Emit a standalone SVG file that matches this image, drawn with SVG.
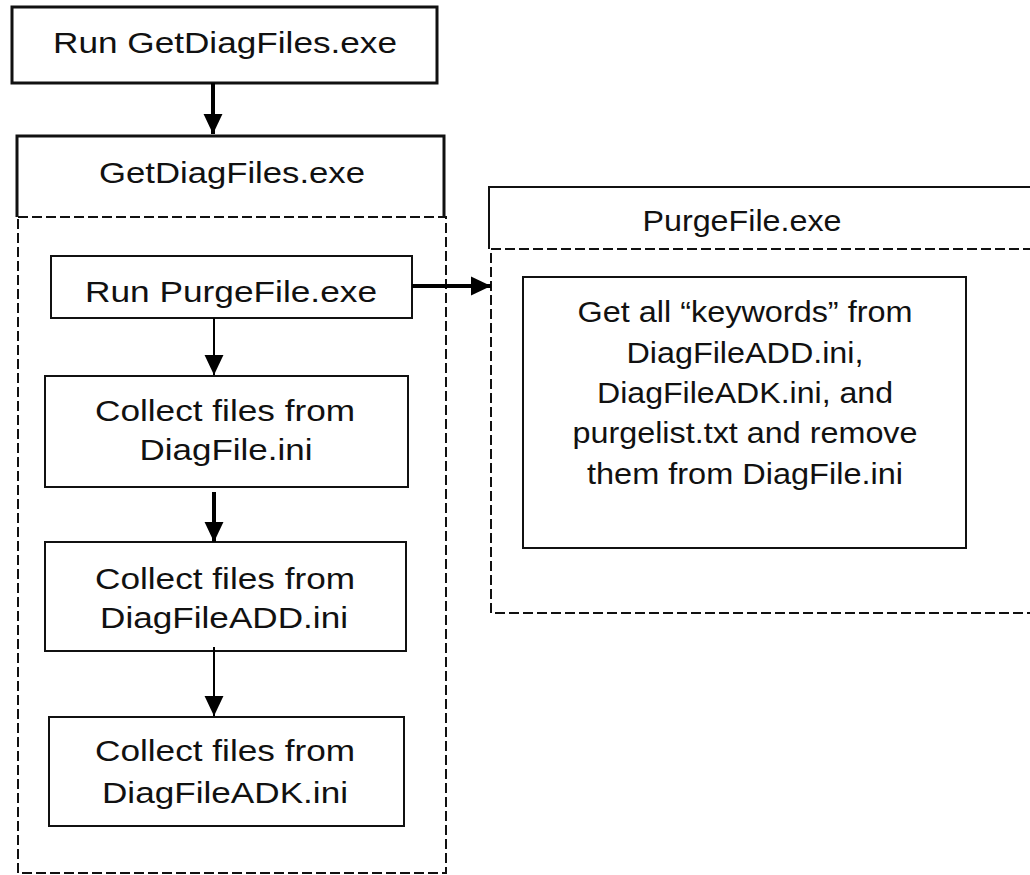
<svg xmlns="http://www.w3.org/2000/svg" width="1030" height="875" viewBox="0 0 1030 875">
<defs>
<style>
.box{fill:none;stroke:#111;stroke-width:2}
.thick{fill:none;stroke:#111;stroke-width:3}
.dash{fill:none;stroke:#111;stroke-width:2;stroke-dasharray:10 4}
.t{font-family:"Liberation Sans",Arial,sans-serif;font-size:30px;fill:#111;text-anchor:middle}
.c{stroke:#000;fill:none}
.ah{fill:#000}
</style>
<marker id="arr" markerUnits="userSpaceOnUse" markerWidth="20" markerHeight="20" viewBox="0 0 18 18" refX="18" refY="9" orient="auto">
<path d="M0,0.5 L18,9 L0,17.5 Z" class="ah"/>
</marker>
</defs>
<rect width="1030" height="875" fill="#fff"/>

<g id="run-getdiag">
<rect class="thick" x="12" y="7" width="425" height="76"/>
<text class="t" x="225" y="53" textLength="344" lengthAdjust="spacingAndGlyphs">Run GetDiagFiles.exe</text>
</g>

<g id="getdiag-container">
<path class="thick" d="M17,217 V136 H444 V217"/>
<rect class="dash" x="18" y="217" width="428" height="656"/>
<text class="t" x="232" y="183" textLength="266" lengthAdjust="spacingAndGlyphs">GetDiagFiles.exe</text>
</g>

<g id="run-purge">
<rect class="box" x="51" y="256" width="361" height="62"/>
<text class="t" x="231" y="302" textLength="292" lengthAdjust="spacingAndGlyphs">Run PurgeFile.exe</text>
</g>

<g id="collect-diagfile">
<rect class="box" x="45" y="376" width="363" height="111"/>
<text class="t" x="225" y="421" textLength="260" lengthAdjust="spacingAndGlyphs">Collect files from</text>
<text class="t" x="226" y="460" textLength="173" lengthAdjust="spacingAndGlyphs">DiagFile.ini</text>
</g>

<g id="collect-add">
<rect class="box" x="45" y="542" width="361" height="109"/>
<text class="t" x="225" y="589" textLength="260" lengthAdjust="spacingAndGlyphs">Collect files from</text>
<text class="t" x="224" y="628" textLength="248" lengthAdjust="spacingAndGlyphs">DiagFileADD.ini</text>
</g>

<g id="collect-adk">
<rect class="box" x="49" y="717" width="355" height="109"/>
<text class="t" x="225" y="761" textLength="260" lengthAdjust="spacingAndGlyphs">Collect files from</text>
<text class="t" x="225" y="803" textLength="246" lengthAdjust="spacingAndGlyphs">DiagFileADK.ini</text>
</g>

<g id="purgefile-container">
<path class="box" d="M489,249 V187 H1040"/>
<rect class="dash" x="491" y="249" width="560" height="364"/>
<text class="t" x="742" y="231" textLength="199" lengthAdjust="spacingAndGlyphs">PurgeFile.exe</text>
</g>

<g id="purge-keywords">
<rect class="box" x="523" y="277" width="443" height="271"/>
<text class="t" x="745" y="322" textLength="335" lengthAdjust="spacingAndGlyphs">Get all “keywords” from</text>
<text class="t" x="745" y="363" textLength="237" lengthAdjust="spacingAndGlyphs">DiagFileADD.ini,</text>
<text class="t" x="745" y="403" textLength="296" lengthAdjust="spacingAndGlyphs">DiagFileADK.ini, and</text>
<text class="t" x="745" y="443" textLength="345" lengthAdjust="spacingAndGlyphs">purgelist.txt and remove</text>
<text class="t" x="745" y="484" textLength="316" lengthAdjust="spacingAndGlyphs">them from DiagFile.ini</text>
</g>

<g id="connectors">
<line class="c" x1="213" y1="83" x2="213" y2="134" stroke-width="4" marker-end="url(#arr)"/>
<line class="c" x1="412" y1="286" x2="491" y2="286" stroke-width="4" marker-end="url(#arr)"/>
<line class="c" x1="214" y1="318" x2="214" y2="375" stroke-width="2" marker-end="url(#arr)"/>
<line class="c" x1="214" y1="492" x2="214" y2="542" stroke-width="4" marker-end="url(#arr)"/>
<line class="c" x1="214" y1="647" x2="214" y2="716" stroke-width="2" marker-end="url(#arr)"/>
</g>
</svg>
